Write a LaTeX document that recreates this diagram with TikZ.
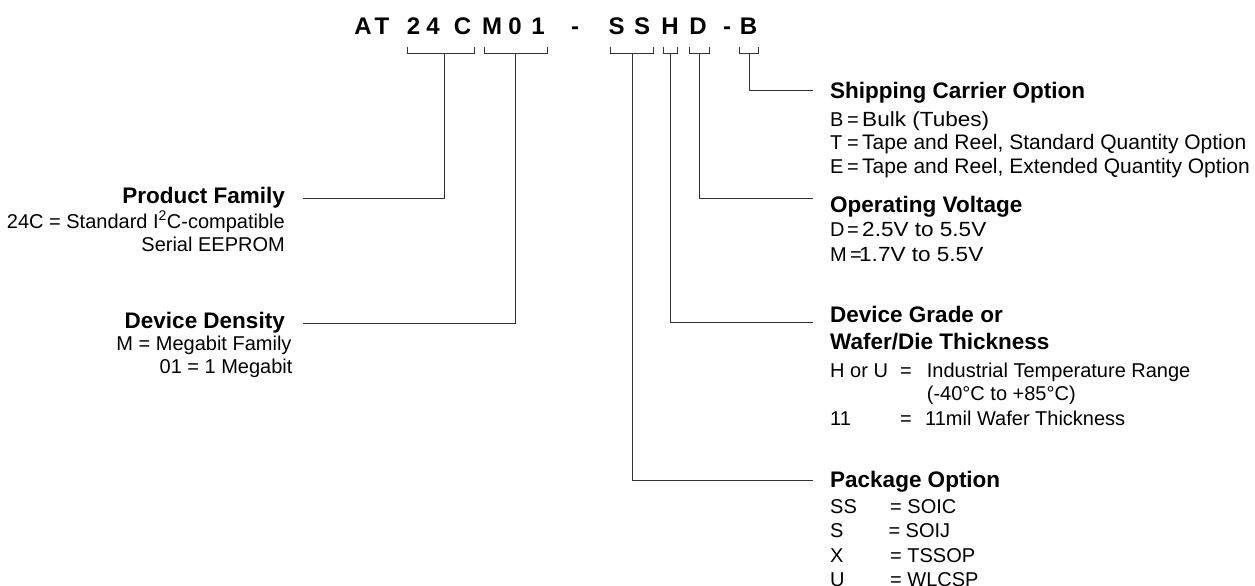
\documentclass[tikz,border=0pt]{standalone}
\usepackage{fontspec}
\setmainfont{Liberation Sans}
\newfontfamily\widefont[FakeStretch=1.1]{Liberation Sans}
\begin{document}
\begin{tikzpicture}[x=1pt,y=-1pt,
  txt/.style={inner sep=0pt, font=\fontsize{20}{24}\selectfont},
  txtb/.style={inner sep=0pt, font=\fontsize{21}{24}\selectfont},
  txtw/.style={inner sep=0pt, font=\widefont\fontsize{20.5}{24}\selectfont},
  ttl/.style={inner sep=0pt, font=\fontsize{22.5}{26}\selectfont\bfseries},
  big/.style={inner sep=0pt, anchor=base, font=\fontsize{24}{28}\selectfont\bfseries},
  conn/.style={line width=1pt, draw=black!80}]
\useasboundingbox (0,0) rectangle (1255,586);
% part number letters
\node[big] (tA) at (363,35) {A};
\node[big] (tT) at (382,35) {T};
\node[big] (t2) at (413.5,35) {2};
\node[big] (t4) at (433,35) {4};
\node[big] (tC) at (462.5,35) {C};
\node[big] (tM) at (492,35) {M};
\node[big] (t0) at (515,35) {0};
\node[big] (t1) at (538,35) {1};
\node[big] (td1) at (575,35) {-};
\node[big] (tS1) at (616.5,35) {S};
\node[big] (tS2) at (642,35) {S};
\node[big] (tH) at (670,35) {H};
\node[big] (tD) at (698,35) {D};
\node[big] (td2) at (727,35) {-};
\node[big] (tB) at (748.5,35) {B};
% bracket corners
\coordinate (b1a) at (407,53.3);  \coordinate (b1b) at (474.3,53.3);
\coordinate (b2a) at (484.3,53.3);\coordinate (b2b) at (547.3,53.3);
\coordinate (b3a) at (610.7,53.3);\coordinate (b3b) at (653.3,53.3);
\coordinate (b4a) at (663.3,53.3);\coordinate (b4b) at (677.3,53.3);
\coordinate (b5a) at (689.3,53.3);\coordinate (b5b) at (709.3,53.3);
\coordinate (b6a) at (739.3,53.3);\coordinate (b6b) at (758.3,53.3);
\foreach \i in {1,...,6}{
  \draw[conn] (b\i a) ++(0,-6.6) -- (b\i a) -- (b\i b) -- ++(0,-6.6);
}
% stems and leader ends
\coordinate (s1) at (444.3,53.3);  \coordinate (e1) at (303.3,198.3);
\coordinate (s2) at (515.7,53.3);  \coordinate (e2) at (303.3,323.3);
\coordinate (s3) at (632.3,53.3);  \coordinate (e3) at (813.3,480);
\coordinate (s4) at (670.7,53.3);  \coordinate (e4) at (813.3,322.7);
\coordinate (s5) at (699.3,53.3);  \coordinate (e5) at (813.3,198.5);
\coordinate (s6) at (749,53.3);    \coordinate (e6) at (813.3,90.7);
\foreach \i in {1,...,6}{\draw[conn] (s\i) |- (e\i);}
% left labels
\node[ttl, anchor=base east] (pf) at (285,203.5) {Product Family};
\node[txt, anchor=base east] (pf1) at (285,228.3) {24C = Standard I\textsuperscript{2}C-compatible};
\node[txt, anchor=base east] (pf2) at (285,251.7) {Serial EEPROM};
\node[ttl, anchor=base east] (dd) at (285,328.3) {Device Density};
\node[txt, anchor=base east] (dd1) at (291.7,350) {M = Megabit Family};
\node[txt, anchor=base east] (dd2) at (292.7,373.3) {01 = 1 Megabit};
% shipping carrier
\node[ttl, anchor=base west] (sc) at (830,99) {Shipping Carrier Option};
\node[txt, anchor=base west] (scB) at (830,126) {B};
\node[txt, anchor=base west] (scBe) at (847,126) {=};
\node[txtw, anchor=base west] (scBv) at (862,126) {Bulk (Tubes)};
\node[txt, anchor=base west] (scT) at (830,149.5) {T};
\node[txt, anchor=base west] (scTe) at (847,149.5) {=};
\node[txtb, anchor=base west] (scTv) at (862,149.5) {Tape and Reel, Standard Quantity Option};
\node[txt, anchor=base west] (scE) at (830,173) {E};
\node[txt, anchor=base west] (scEe) at (847,173) {=};
\node[txtb, anchor=base west] (scEv) at (862,173) {Tape and Reel, Extended Quantity Option};
% operating voltage
\node[ttl, anchor=base west] (ov) at (830,212) {Operating Voltage};
\node[txt, anchor=base west] (ovD) at (830,236.7) {D};
\node[txt, anchor=base west] (ovDe) at (847,236.7) {=};
\node[txtw, anchor=base west] (ovDv) at (862,236.7) {2.5V to 5.5V};
\node[txt, anchor=base west] (ovM) at (830,261) {M};
\node[txt, anchor=base west] (ovMe) at (850,261) {=};
\node[txtw, anchor=base west] (ovMv) at (859,261) {1.7V to 5.5V};
% device grade
\node[ttl, anchor=base west] (dg) at (830,322.7) {Device Grade or};
\node[ttl, anchor=base west] (dg2) at (830,349.3) {Wafer/Die Thickness};
\node[txt, anchor=base west] (dgH) at (830,377.3) {H or U};
\node[txt, anchor=base west] (dgHe) at (900,377.3) {=};
\node[txt, anchor=base west] (dgHv) at (926.7,377.3) {Industrial Temperature Range};
\node[txt, anchor=base west] (dgHv2) at (926.7,400) {(-40°C to +85°C)};
\node[txt, anchor=base west] (dg11) at (830,425) {11};
\node[txt, anchor=base west] (dg11e) at (900,425) {=};
\node[txt, anchor=base west] (dg11v) at (925,425) {11mil Wafer Thickness};
% package option
\node[ttl, anchor=base west] (po) at (830,487) {Package Option};
\node[txt, anchor=base west] (poSS) at (830,513.3) {SS};
\node[txt, anchor=base west] (poSSv) at (890,513.3) {= SOIC};
\node[txt, anchor=base west] (poS) at (830,537.7) {S};
\node[txt, anchor=base west] (poSv) at (888.3,537.7) {= SOIJ};
\node[txt, anchor=base west] (poX) at (830,562.3) {X};
\node[txt, anchor=base west] (poXv) at (890,562.3) {= TSSOP};
\node[txt, anchor=base west] (poU) at (830,586) {U};
\node[txt, anchor=base west] (poUv) at (890,586) {= WLCSP};
\end{tikzpicture}
\end{document}
